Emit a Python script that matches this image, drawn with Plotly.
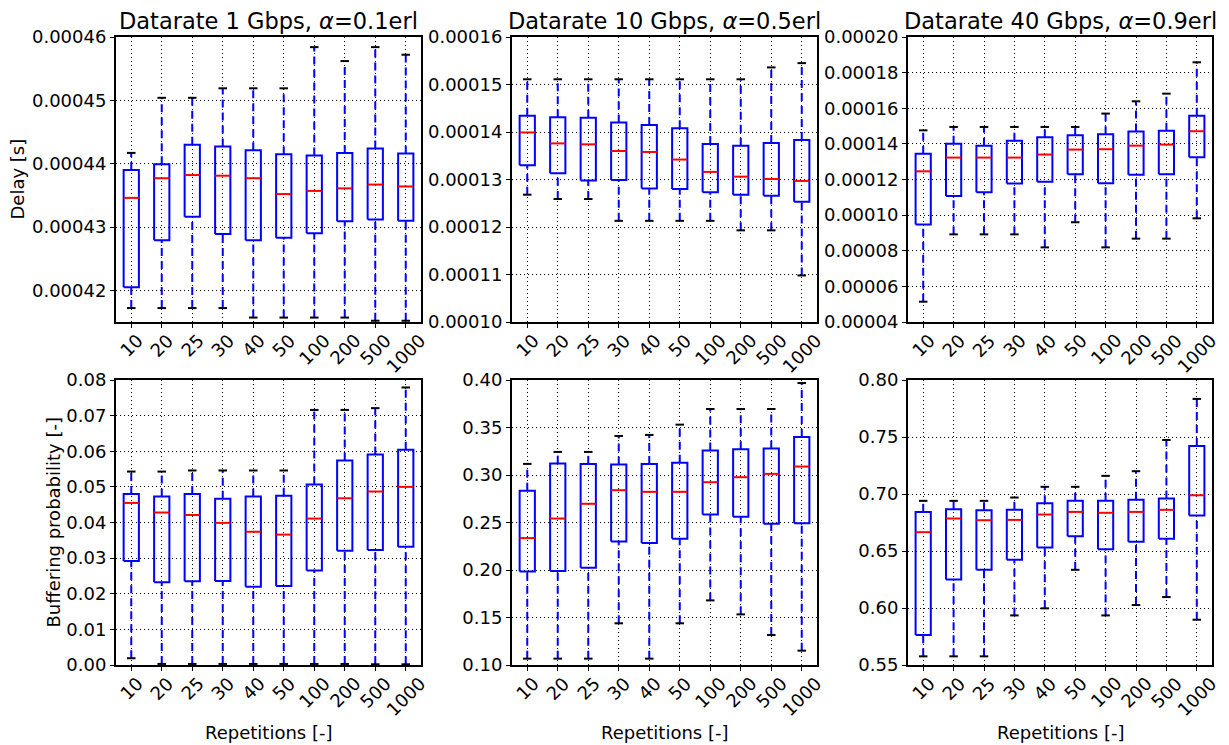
import plotly.graph_objects as go

categories = ["10", "20", "25", "30", "40", "50", "100", "200", "500", "1000"]

# Panel A: Delay, 1 Gbps
A_lo = [0.0004172, 0.0004172, 0.0004172, 0.0004172, 0.0004157, 0.0004157, 0.0004157, 0.0004157, 0.0004152, 0.0004152]
A_q1 = [0.0004205, 0.0004279, 0.0004316, 0.0004289, 0.0004279, 0.0004283, 0.0004290, 0.0004309, 0.0004312, 0.0004310]
A_med = [0.0004346, 0.0004377, 0.0004382, 0.0004381, 0.0004377, 0.0004352, 0.0004357, 0.0004361, 0.0004367, 0.0004364]
A_q3 = [0.0004390, 0.0004399, 0.0004430, 0.0004427, 0.0004421, 0.0004415, 0.0004413, 0.0004417, 0.0004424, 0.0004416]
A_hi = [0.0004417, 0.0004504, 0.0004504, 0.0004519, 0.0004519, 0.0004519, 0.0004584, 0.0004562, 0.0004584, 0.0004572]

# Panel B: Delay, 10 Gbps
B_lo = [0.0001268, 0.0001259, 0.0001259, 0.0001213, 0.0001213, 0.0001213, 0.0001213, 0.0001193, 0.0001193, 0.0001098]
B_q1 = [0.0001330, 0.0001313, 0.0001298, 0.0001299, 0.0001281, 0.0001280, 0.0001273, 0.0001268, 0.0001266, 0.0001253]
B_med = [0.0001399, 0.0001376, 0.0001374, 0.0001360, 0.0001358, 0.0001342, 0.0001316, 0.0001306, 0.0001301, 0.0001297]
B_q3 = [0.0001434, 0.0001431, 0.0001430, 0.0001420, 0.0001415, 0.0001408, 0.0001375, 0.0001371, 0.0001377, 0.0001383]
B_hi = [0.0001511, 0.0001511, 0.0001511, 0.0001511, 0.0001511, 0.0001511, 0.0001511, 0.0001511, 0.0001536, 0.0001545]

# Panel C: Delay, 40 Gbps
C_lo = [0.0000514, 0.0000892, 0.0000892, 0.0000892, 0.0000819, 0.0000960, 0.0000819, 0.0000868, 0.0000868, 0.0000982]
C_q1 = [0.0000947, 0.0001108, 0.0001128, 0.0001177, 0.0001188, 0.0001229, 0.0001179, 0.0001227, 0.0001229, 0.0001325]
C_med = [0.0001246, 0.0001323, 0.0001323, 0.0001323, 0.0001340, 0.0001368, 0.0001370, 0.0001390, 0.0001396, 0.0001471]
C_q3 = [0.0001345, 0.0001401, 0.0001390, 0.0001418, 0.0001437, 0.0001448, 0.0001454, 0.0001469, 0.0001474, 0.0001558]
C_hi = [0.0001476, 0.0001495, 0.0001495, 0.0001495, 0.0001495, 0.0001495, 0.0001570, 0.0001639, 0.0001682, 0.0001858]

# Panel D: Buffering probability, 1 Gbps
D_lo = [0.0019, 0.0003, 0.0003, 0.0003, 0.0003, 0.0003, 0.0003, 0.0003, 0.0002, 0.0002]
D_q1 = [0.0292, 0.0232, 0.0235, 0.0236, 0.0220, 0.0222, 0.0265, 0.0321, 0.0323, 0.0332]
D_med = [0.0455, 0.0428, 0.0421, 0.0399, 0.0374, 0.0366, 0.0411, 0.0468, 0.0487, 0.0500]
D_q3 = [0.0480, 0.0473, 0.0480, 0.0467, 0.0473, 0.0475, 0.0507, 0.0574, 0.0591, 0.0604]
D_hi = [0.0543, 0.0543, 0.0546, 0.0546, 0.0546, 0.0546, 0.0716, 0.0716, 0.0721, 0.0779]

# Panel E: Buffering probability, 10 Gbps
E_lo = [0.1067, 0.1067, 0.1067, 0.1439, 0.1067, 0.1439, 0.1680, 0.1533, 0.1316, 0.1151]
E_q1 = [0.1985, 0.1989, 0.2024, 0.2301, 0.2283, 0.2329, 0.2584, 0.2560, 0.2486, 0.2493]
E_med = [0.2336, 0.2542, 0.2697, 0.2840, 0.2823, 0.2823, 0.2924, 0.2977, 0.3012, 0.3089]
E_q3 = [0.2833, 0.3120, 0.3117, 0.3110, 0.3117, 0.3128, 0.3257, 0.3270, 0.3278, 0.3401]
E_hi = [0.3117, 0.3243, 0.3243, 0.3411, 0.3422, 0.3530, 0.3695, 0.3695, 0.3695, 0.3968]

# Panel F: Buffering probability, 40 Gbps
F_lo = [0.5576, 0.5576, 0.5576, 0.5935, 0.5997, 0.6335, 0.5935, 0.6026, 0.6096, 0.5897]
F_q1 = [0.5763, 0.6250, 0.6335, 0.6423, 0.6531, 0.6630, 0.6516, 0.6581, 0.6607, 0.6811]
F_med = [0.6665, 0.6785, 0.6770, 0.6773, 0.6820, 0.6843, 0.6835, 0.6843, 0.6861, 0.6989]
F_q3 = [0.6843, 0.6867, 0.6858, 0.6861, 0.6919, 0.6940, 0.6940, 0.6949, 0.6960, 0.7422]
F_hi = [0.6940, 0.6940, 0.6940, 0.6969, 0.7063, 0.7063, 0.7159, 0.7200, 0.7474, 0.7834]

titles = ["Datarate 1 Gbps, <i>α</i>=0.1erl",
          "Datarate 10 Gbps, <i>α</i>=0.5erl",
          "Datarate 40 Gbps, <i>α</i>=0.9erl"]

panels = [
    (A_lo, A_q1, A_med, A_q3, A_hi),
    (B_lo, B_q1, B_med, B_q3, B_hi),
    (C_lo, C_q1, C_med, C_q3, C_hi),
    (D_lo, D_q1, D_med, D_q3, D_hi),
    (E_lo, E_q1, E_med, E_q3, E_hi),
    (F_lo, F_q1, F_med, F_q3, F_hi),
]

y_ranges = [[0.000415, 0.00046], [0.00010, 0.00016], [0.00004, 0.00020],
            [0.0, 0.08], [0.10, 0.40], [0.55, 0.80]]
y_dticks = [0.00001, 0.00001, 0.00002, 0.01, 0.05, 0.05]
y_tick0 = [0.00042, 0.0001, 0.00004, 0.0, 0.10, 0.55]
y_formats = [".5f", ".5f", ".5f", ".2f", ".2f", ".2f"]

W, H = 1229, 745
x_dom_px = [(116, 421), (512, 817), (908, 1212)]
y_dom_px = [(37, 322), (380, 665)]

FONT = "DejaVu Sans"
BLUE = "#0000ff"
RED = "#ff0000"

fig = go.Figure()
pos = list(range(1, len(categories) + 1))
BW = 0.25   # box half width
CW = 0.14   # cap half width

annotations = []

for k, (lo, q1, med, q3, hi) in enumerate(panels):
    r, c = divmod(k, 3)
    xa = "x" if k == 0 else f"x{k+1}"
    ya = "y" if k == 0 else f"y{k+1}"

    wx, wy, cx, cy, bx, by, mx, my = [], [], [], [], [], [], [], []
    for p, a, b, m, d, e in zip(pos, lo, q1, med, q3, hi):
        wx += [p, p, None, p, p, None]
        wy += [a, b, None, d, e, None]
        cx += [p - CW, p + CW, None, p - CW, p + CW, None]
        cy += [a, a, None, e, e, None]
        bx += [p - BW, p + BW, p + BW, p - BW, p - BW, None]
        by += [b, b, d, d, b, None]
        mx += [p - BW, p + BW, None]
        my += [m, m, None]

    fig.add_trace(go.Scatter(x=wx, y=wy, mode="lines", xaxis=xa, yaxis=ya,
                             line=dict(color=BLUE, width=2, dash="8px,5px"),
                             hoverinfo="skip", showlegend=False))
    fig.add_trace(go.Scatter(x=cx, y=cy, mode="lines", xaxis=xa, yaxis=ya,
                             line=dict(color="black", width=2),
                             hoverinfo="skip", showlegend=False))
    fig.add_trace(go.Scatter(x=bx, y=by, mode="lines", xaxis=xa, yaxis=ya,
                             line=dict(color=BLUE, width=2),
                             hoverinfo="skip", showlegend=False))
    fig.add_trace(go.Scatter(x=mx, y=my, mode="lines", xaxis=xa, yaxis=ya,
                             line=dict(color=RED, width=2),
                             hoverinfo="skip", showlegend=False))

    x0, x1 = x_dom_px[c]
    y0, y1 = y_dom_px[r]
    xdom = [x0 / W, x1 / W]
    ydom = [1 - y1 / H, 1 - y0 / H]

    axis_common = dict(showline=True, mirror=True, linecolor="black", linewidth=2,
                       ticks="outside", ticklen=4, tickwidth=1, tickcolor="black",
                       showgrid=True, gridcolor="black", gridwidth=1, griddash="1px,3px",
                       zeroline=False, automargin=False)

    fig.layout[("xaxis" if k == 0 else f"xaxis{k+1}")] = dict(
        domain=xdom, anchor=ya, range=[0.5, len(categories) + 0.5],
        tickmode="array", tickvals=pos, showticklabels=False, **axis_common)
    fig.layout[("yaxis" if k == 0 else f"yaxis{k+1}")] = dict(
        domain=ydom, anchor=xa, range=y_ranges[k], tickmode="linear",
        tick0=y_tick0[k], dtick=y_dticks[k], tickformat=y_formats[k],
        tickfont=dict(family=FONT, size=18, color="black"), **axis_common)

    # rotated category tick labels
    for p, lab in zip(pos, categories):
        annotations.append(dict(x=p, y=ydom[0], xref=xa, yref="paper", text=lab,
                                textangle=-45, xanchor="center", yanchor="top",
                                yshift=-5, showarrow=False,
                                font=dict(family=FONT, size=18, color="black")))

    if r == 0:
        annotations.append(dict(x=(xdom[0] + xdom[1]) / 2, y=ydom[1], xref="paper", yref="paper",
                                text=titles[c], xanchor="center", yanchor="bottom", yshift=1,
                                showarrow=False, font=dict(family=FONT, size=22.5, color="black")))
    else:
        annotations.append(dict(x=(xdom[0] + xdom[1]) / 2, y=1 - 732 / H, xref="paper", yref="paper",
                                text="Repetitions [-]", xanchor="center", yanchor="middle",
                                showarrow=False, font=dict(family=FONT, size=18, color="black")))

annotations.append(dict(x=17 / W, y=1 - (37 + 322) / 2 / H, xref="paper", yref="paper",
                        text="Delay [s]", textangle=-90, xanchor="center", yanchor="middle",
                        showarrow=False, font=dict(family=FONT, size=18, color="black")))
annotations.append(dict(x=53 / W, y=1 - (380 + 665) / 2 / H, xref="paper", yref="paper",
                        text="Buffering probability [-]", textangle=-90, xanchor="center",
                        yanchor="middle", showarrow=False,
                        font=dict(family=FONT, size=18, color="black")))

fig.update_layout(width=W, height=H, margin=dict(l=0, r=0, t=0, b=0),
                  paper_bgcolor="white", plot_bgcolor="white",
                  font=dict(family=FONT, size=18, color="black"),
                  annotations=annotations, showlegend=False)

fig.write_html("out.html", config={"displayModeBar": False},
               post_script="document.body.style.margin='0';document.body.style.padding='0';")
